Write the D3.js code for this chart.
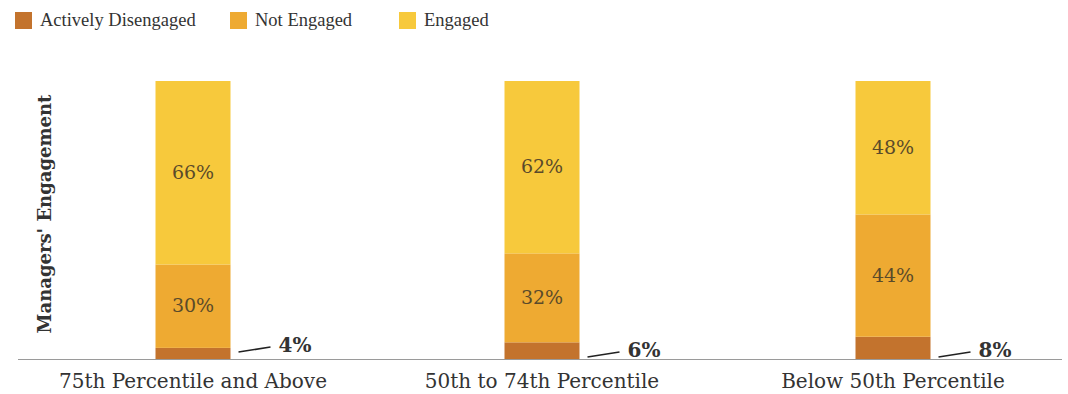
<!DOCTYPE html>
<html><head><meta charset="utf-8">
<script src="https://cdn.jsdelivr.net/npm/d3@7"></script>
<style>body{margin:0;background:#fff}svg{display:block}text{font-family:"Liberation Serif","DejaVu Serif",serif}</style>
</head><body><svg id="c" width="1068" height="394"></svg>
<script>
const categories = ["75th Percentile and Above", "50th to 74th Percentile", "Below 50th Percentile"];
const seriesNames = ["Actively Disengaged", "Not Engaged", "Engaged"];
const activelyDisengaged = [4, 6, 8];
const notEngaged = [30, 32, 44];
const engaged = [66, 62, 48];
const colors = ["#c3732d", "#eeaa32", "#f7c93c"];

const svg = d3.select("#c");
const data = categories.map((c, i) => ({cat: c, ad: activelyDisengaged[i], ne: notEngaged[i], en: engaged[i]}));
const stack = d3.stack().keys(["ad", "ne", "en"])(data);

const y = d3.scaleLinear().domain([0, 100]).range([359, 81]);
const bw = 75;
const x = d3.scaleOrdinal().domain(categories).range([193, 542, 893]);
const cx = (i) => x(categories[i]);
const bx = (i) => cx(i) - bw / 2;
const serif2 = "'DejaVu Serif', serif";

// axis baseline
svg.append("line").attr("x1", 18).attr("x2", 1062).attr("y1", 359.5).attr("y2", 359.5)
  .attr("stroke", "#9a9a9a").attr("stroke-width", 1);

stack.forEach((s, k) => {
  svg.append("g").selectAll("rect").data(s).join("rect")
    .attr("x", (d, i) => bx(i)).attr("width", bw)
    .attr("y", d => y(d[1])).attr("height", d => y(d[0]) - y(d[1]))
    .attr("fill", colors[k]);
});

// inside labels
stack.slice(1).forEach((s) => {
  svg.append("g").selectAll("text").data(s).join("text")
    .attr("x", (d, i) => cx(i)).attr("y", d => (y(d[0]) + y(d[1])) / 2 + 6)
    .attr("text-anchor", "middle").attr("font-size", 19).attr("fill", "#5a4a2a")
    .style("font-family", serif2)
    .text(d => (d[1] - d[0]) + "%");
});

// outside labels for actively disengaged
const adLabelY = [345, 350, 350];
activelyDisengaged.forEach((v, i) => {
  const r = bx(i) + bw;
  svg.append("line").attr("x1", r + 8).attr("x2", r + 40)
    .attr("y1", adLabelY[i] + 7).attr("y2", adLabelY[i] + 2)
    .attr("stroke", "#222").attr("stroke-width", 1.6);
  svg.append("text").attr("x", r + 48).attr("y", adLabelY[i] + 7)
    .attr("font-size", 20).attr("font-weight", "bold").attr("fill", "#333")
    .style("font-family", serif2)
    .text(v + "%");
});

// category labels
categories.forEach((c, i) => {
  svg.append("text").attr("x", cx(i)).attr("y", 388).attr("text-anchor", "middle")
    .attr("font-size", 20).attr("fill", "#333").style("font-family", serif2).text(c);
});

// y title
svg.append("text").attr("transform", "translate(51,214) rotate(-90)").attr("text-anchor", "middle")
  .attr("font-size", 18).attr("font-weight", "bold").attr("fill", "#333")
  .style("font-family", serif2).text("Managers' Engagement");

// legend
const legX = [15, 230, 399];
seriesNames.forEach((n, k) => {
  svg.append("rect").attr("x", legX[k]).attr("y", 12).attr("width", 17).attr("height", 17).attr("fill", colors[k]);
  svg.append("text").attr("x", legX[k] + 25).attr("y", 26).attr("font-size", 18.5).attr("fill", "#333").text(n);
});
</script></body></html>
